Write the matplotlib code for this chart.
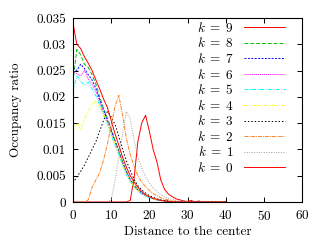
import numpy as np
import matplotlib
matplotlib.use("Agg")
import matplotlib.pyplot as plt

plt.rcParams["font.family"] = "cmr10"
plt.rcParams["mathtext.fontset"] = "cm"
plt.rcParams["axes.unicode_minus"] = False
plt.rcParams["axes.formatter.use_mathtext"] = True

# distancia al centro (0..40)
distance = list(range(0, 41))

k0 = [0.0340, 0.0300, 0.0292, 0.0276, 0.0264, 0.0250, 0.0232, 0.0215, 0.0196, 0.0180,
      0.0155, 0.0130, 0.0108, 0.0085, 0.0066, 0.0050, 0.0038, 0.0028, 0.0020, 0.0014,
      0.0010, 0.0007, 0.0005, 0.0003, 0.0002, 0.0001, 0, 0, 0, 0,
      0, 0, 0, 0, 0, 0, 0, 0, 0, 0, 0]
k1 = [0, 0, 0, 0, 0, 0, 0, 0, 0, 0,
      0.0004, 0.0040, 0.0085, 0.0130, 0.0172, 0.0158, 0.0118, 0.0086, 0.0065, 0.0048,
      0.0036, 0.0027, 0.0020, 0.0014, 0.0010, 0.0007, 0.0005, 0.0003, 0.0002, 0.0001,
      0, 0, 0, 0, 0, 0, 0, 0, 0, 0, 0]
k2 = [0, 0, 0, 0, 0.0004, 0.0028, 0.0042, 0.0056, 0.0080, 0.0110,
      0.0145, 0.0182, 0.0203, 0.0165, 0.0120, 0.0090, 0.0068, 0.0050, 0.0038, 0.0029,
      0.0022, 0.0016, 0.0012, 0.0008, 0.0006, 0.0004, 0.0002, 0.0001, 0, 0,
      0, 0, 0, 0, 0, 0, 0, 0, 0, 0, 0]
k3 = [0.0036, 0.0048, 0.0058, 0.0070, 0.0085, 0.0100, 0.0115, 0.0135, 0.0155, 0.0172,
      0.0162, 0.0148, 0.0125, 0.0100, 0.0078, 0.0060, 0.0043, 0.0031, 0.0023, 0.0017,
      0.0012, 0.0009, 0.0006, 0.0004, 0.0003, 0.0002, 0.0001, 0, 0, 0,
      0, 0, 0, 0, 0, 0, 0, 0, 0, 0, 0]
k4 = [0.0135, 0.0150, 0.0138, 0.0158, 0.0172, 0.0186, 0.0192, 0.0180, 0.0168, 0.0150,
      0.0130, 0.0112, 0.0093, 0.0072, 0.0054, 0.0040, 0.0030, 0.0022, 0.0016, 0.0012,
      0.0009, 0.0006, 0.0004, 0.0003, 0.0002, 0.0001, 0, 0, 0, 0,
      0, 0, 0, 0, 0, 0, 0, 0, 0, 0, 0]
k5 = [0.0210, 0.0240, 0.0230, 0.0222, 0.0228, 0.0215, 0.0202, 0.0185, 0.0165, 0.0148,
      0.0128, 0.0108, 0.0090, 0.0070, 0.0052, 0.0039, 0.0029, 0.0021, 0.0015, 0.0011,
      0.0008, 0.0006, 0.0004, 0.0003, 0.0002, 0.0001, 0, 0, 0, 0,
      0, 0, 0, 0, 0, 0, 0, 0, 0, 0, 0]
k6 = [0.0250, 0.0244, 0.0240, 0.0250, 0.0234, 0.0224, 0.0210, 0.0190, 0.0170, 0.0152,
      0.0132, 0.0112, 0.0094, 0.0073, 0.0055, 0.0041, 0.0030, 0.0022, 0.0016, 0.0012,
      0.0009, 0.0006, 0.0004, 0.0003, 0.0002, 0.0001, 0, 0, 0, 0,
      0, 0, 0, 0, 0, 0, 0, 0, 0, 0, 0]
k7 = [0.0255, 0.0250, 0.0262, 0.0254, 0.0242, 0.0232, 0.0216, 0.0195, 0.0175, 0.0156,
      0.0136, 0.0115, 0.0096, 0.0075, 0.0057, 0.0042, 0.0031, 0.0023, 0.0017, 0.0012,
      0.0009, 0.0006, 0.0004, 0.0003, 0.0002, 0.0001, 0, 0, 0, 0,
      0, 0, 0, 0, 0, 0, 0, 0, 0, 0, 0]
k8 = [0.0230, 0.0290, 0.0280, 0.0262, 0.0256, 0.0242, 0.0224, 0.0200, 0.0178, 0.0160,
      0.0140, 0.0118, 0.0098, 0.0077, 0.0058, 0.0043, 0.0032, 0.0024, 0.0017, 0.0012,
      0.0009, 0.0006, 0.0004, 0.0003, 0.0002, 0.0001, 0, 0, 0, 0,
      0, 0, 0, 0, 0, 0, 0, 0, 0, 0, 0]
k9 = [0, 0, 0, 0, 0, 0, 0, 0, 0, 0,
      0, 0, 0, 0, 0, 0.0003, 0.0045, 0.0115, 0.0150, 0.0165,
      0.0135, 0.0100, 0.0076, 0.0042, 0.0024, 0.0015, 0.0010, 0.0006, 0.0004, 0.0002,
      0.0001, 0.0003, 0, 0.0002, 0, 0, 0.0001, 0, 0, 0, 0]

series = [
    ("9", k9, "#ff0000", "-"),
    ("8", k8, "#00c000", (0, (4, 2))),
    ("7", k7, "#0000ff", (0, (2, 1.5))),
    ("6", k6, "#ff00ff", (0, (1, 1))),
    ("5", k5, "#00ffff", (0, (4, 1.5, 1, 1.5))),
    ("4", k4, "#ffff00", (0, (3, 1.5, 1, 1.5, 1, 1.5))),
    ("3", k3, "#000000", (0, (1.5, 2))),
    ("2", k2, "#ff8020", (0, (4, 1, 1, 1))),
    ("1", k1, "#a0a0a0", (0, (1, 1.5))),
    ("0", k0, "#ff0000", "-"),
]

fig = plt.figure(figsize=(3.27, 2.4), dpi=100)
ax = fig.add_axes([73 / 327, 1 - 202 / 240, 229 / 327, 184 / 240])

for k, vals, color, ls in series:
    ax.plot(distance, vals, color=color, linestyle=ls, linewidth=0.7,
            label=r"$k\;=\;%s$" % k)

ax.set_xlim(0, 60)
ax.set_ylim(0, 0.035)
ax.set_xticks(np.arange(0, 61, 10))
ax.set_yticks([0, 0.005, 0.01, 0.015, 0.02, 0.025, 0.03, 0.035])
ax.set_yticklabels(["0", "0.005", "0.01", "0.015", "0.02", "0.025", "0.03", "0.035"])
ax.tick_params(direction="in", length=3.5, width=0.7, top=True, right=True,
               labelsize=9.5)
ax.tick_params(axis="x", pad=5)
ax.tick_params(axis="y", pad=5)
for s in ax.spines.values():
    s.set_linewidth(0.8)

ax.set_xlabel("Distance to the center", fontsize=9.5, labelpad=2)
ax.set_ylabel("Occupancy ratio", fontsize=9.5, labelpad=10)

ax.legend(loc="upper right", bbox_to_anchor=(0.925, 0.985), frameon=False,
          markerfirst=False, fontsize=9.5, handlelength=3.1, handletextpad=0.8,
          labelspacing=0.12, borderpad=0, borderaxespad=0)

fig.savefig("out.png", dpi=100)
